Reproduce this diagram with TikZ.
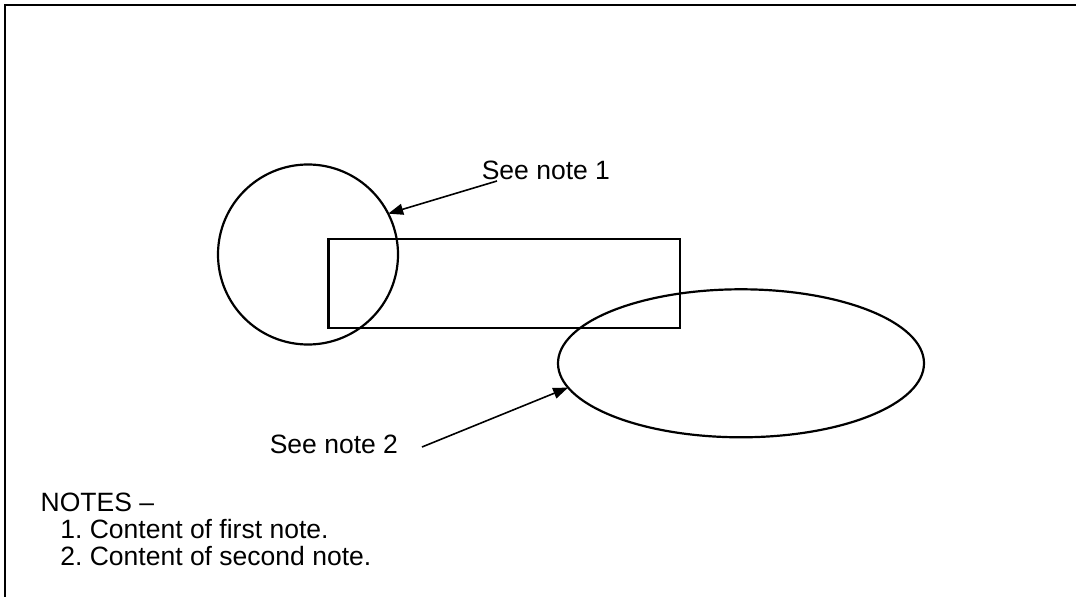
\documentclass[tikz,border=0pt]{standalone}
\usepackage{fontspec}
\setmainfont{Liberation Sans}
\usetikzlibrary{shapes.geometric,arrows.meta}
\frenchspacing
\tikzset{
  shapeline/.style={draw, line width=2.2bp, inner sep=0pt, outer sep=0pt},
  lbl/.style={anchor=base west, inner sep=0pt, outer sep=0pt, font=\fontsize{26.5bp}{30bp}\selectfont},
  callout/.style={line width=1.6bp, -{Triangle[length=15bp,width=11bp]}},
}
\begin{document}
\frenchspacing
\begin{tikzpicture}[x=1bp,y=-1bp]
\useasboundingbox (0,0) rectangle (1076,597);
\fill[white] (0,0) rectangle (1076,597);
% frame (top and left edges)
\draw[line width=2.8bp] (5,597) -- (5,5) -- (1076,5);
% shapes
\node[shapeline, circle, minimum size=180bp] (circ) at (308,254.5) {};
\node[shapeline, rectangle, minimum width=351.5bp, minimum height=89bp] (rect) at (504.25,283.5) {};
\node[shapeline, ellipse, minimum width=366bp, minimum height=148bp] (ell) at (741,363.3) {};
% labels
\node[lbl] (n1) at (481.8,180) {See note 1};
\node[lbl] (n2) at (269.8,453) {See note 2};
\coordinate (a1) at (497,181);
\coordinate (a2) at (422,447);
\draw[callout] (a1) -- (circ.27.3);
\draw[callout] (a2) -- (ell.188.85);
% notes
\node[lbl] (notes) at (40.7,511) {NOTES –};
\node[lbl] (note1) at (60.4,538) {1. Content of first note.};
\node[lbl] (note2) at (60.4,565) {2. Content of second note.};
\end{tikzpicture}
\end{document}
